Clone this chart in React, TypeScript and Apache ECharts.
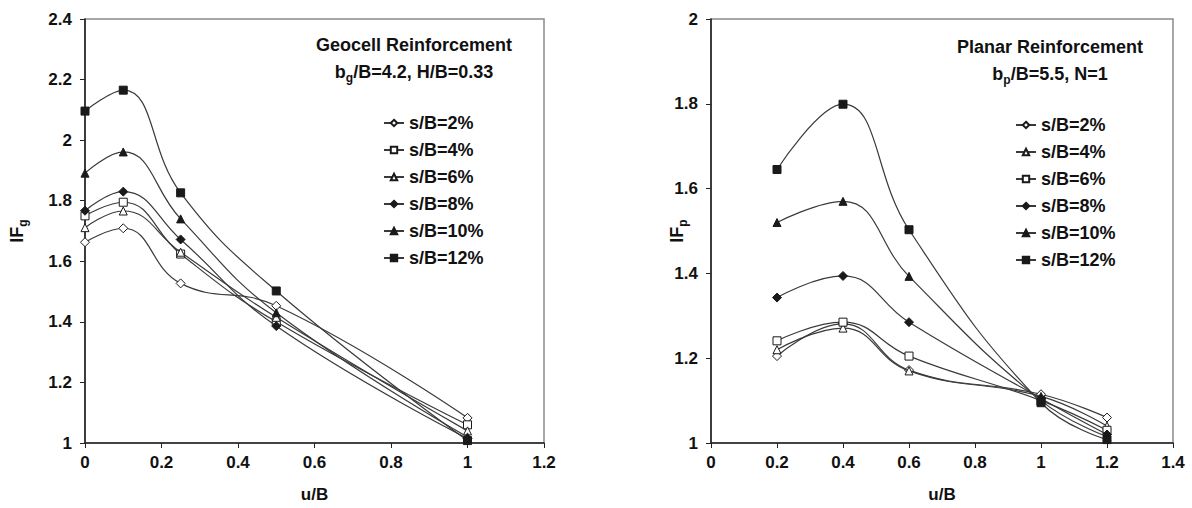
import React, { useEffect, useRef } from "react";
import * as echarts from "echarts";

const seriesNames = ["s/B=2%", "s/B=4%", "s/B=6%", "s/B=8%", "s/B=10%", "s/B=12%"];

// Geocell reinforcement (left)
const geoX = [0, 0.1, 0.25, 0.5, 1];
const geo2 = [1.663, 1.709, 1.527, 1.453, 1.083];
const geo4 = [1.75, 1.795, 1.624, 1.4, 1.06];
const geo6 = [1.711, 1.766, 1.63, 1.415, 1.04];
const geo8 = [1.767, 1.83, 1.672, 1.386, 1.015];
const geo10 = [1.891, 1.961, 1.74, 1.43, 1.02];
const geo12 = [2.096, 2.165, 1.826, 1.502, 1.008];

// Planar reinforcement (right)
const plaX = [0.2, 0.4, 0.6, 1, 1.2];
const pla2 = [1.205, 1.281, 1.172, 1.115, 1.06];
const pla4 = [1.22, 1.271, 1.17, 1.11, 1.04];
const pla6 = [1.241, 1.285, 1.205, 1.1, 1.03];
const pla8 = [1.343, 1.394, 1.285, 1.105, 1.02];
const pla10 = [1.52, 1.57, 1.393, 1.1, 1.015];
const pla12 = [1.645, 1.799, 1.503, 1.095, 1.008];

const FONT = "'Liberation Sans', Arial, sans-serif";
const LINE = "#3a3a3a";

type Mark = { symbol: string; filled: boolean; size: number };
const geoMarks: Mark[] = [
  { symbol: "diamond", filled: false, size: 9 },
  { symbol: "rect", filled: false, size: 8 },
  { symbol: "triangle", filled: false, size: 8 },
  { symbol: "diamond", filled: true, size: 9 },
  { symbol: "triangle", filled: true, size: 8 },
  { symbol: "rect", filled: true, size: 8 },
];
const plaMarks: Mark[] = [
  { symbol: "diamond", filled: false, size: 9 },
  { symbol: "triangle", filled: false, size: 8 },
  { symbol: "rect", filled: false, size: 8 },
  { symbol: "diamond", filled: true, size: 9 },
  { symbol: "triangle", filled: true, size: 8 },
  { symbol: "rect", filled: true, size: 8 },
];

function buildSeries(xs: number[], ys: number[][], marks: Mark[]) {
  return ys.map((vals, i) => ({
    type: "line",
    name: seriesNames[i],
    data: xs.map((x, j) => [x, vals[j]]),
    smooth: 0.45,
    symbol: marks[i].symbol,
    symbolSize: marks[i].size,
    showAllSymbol: true,
    lineStyle: { color: LINE, width: 1.2 },
    itemStyle: {
      color: marks[i].filled ? "#1a1a1a" : "#ffffff",
      borderColor: "#1a1a1a",
      borderWidth: 1,
    },
    z: 2 + i,
  }));
}

const fmt = (v: number) => String(parseFloat(v.toFixed(1)));

function makeOption(cfg: {
  gridLeft: number;
  gridTop: number;
  gridWidth: number;
  gridHeight: number;
  xMax: number;
  yMax: number;
  sub: string;
  nameGap: number;
  title1: string;
  title2: string;
  titleX: number;
  titleY: number;
  legendLeft: number;
  legendTop: number;
  series: any[];
}) {
  const labelStyle = { fontFamily: FONT, fontWeight: "bold", fontSize: 17, color: "#111" };
  return {
    animation: false,
    backgroundColor: "#ffffff",
    grid: {
      left: cfg.gridLeft,
      top: cfg.gridTop,
      width: cfg.gridWidth,
      height: cfg.gridHeight,
      show: true,
      borderColor: "#8a8a8a",
      borderWidth: 1.5,
      backgroundColor: "transparent",
    },
    xAxis: {
      type: "value",
      min: 0,
      max: cfg.xMax,
      interval: 0.2,
      name: "u/B",
      nameLocation: "middle",
      nameGap: 43,
      nameMoveOverlap: false,
      nameTextStyle: { fontFamily: FONT, fontWeight: "bold", fontSize: 17, color: "#111" },
      axisLine: { show: true, lineStyle: { color: "#222", width: 1.6 } },
      axisTick: { show: true, inside: false, length: 5, lineStyle: { color: "#222" } },
      axisLabel: { ...labelStyle, margin: 11, formatter: fmt },
      splitLine: { show: false },
    },
    yAxis: {
      type: "value",
      min: 1,
      max: cfg.yMax,
      interval: 0.2,
      name: "{a|IF}{b|" + cfg.sub + "}",
      nameLocation: "middle",
      nameGap: cfg.nameGap,
      nameMoveOverlap: false,
      nameTextStyle: {
        rich: {
          a: { fontFamily: FONT, fontWeight: "bold", fontSize: 18, color: "#111", lineHeight: 24 },
          b: { fontFamily: FONT, fontWeight: "bold", fontSize: 12, color: "#111", lineHeight: 11, verticalAlign: "bottom" },
        },
      },
      axisLine: { show: true, lineStyle: { color: "#222", width: 1.6 } },
      axisTick: { show: true, inside: false, length: 5, lineStyle: { color: "#222" } },
      axisLabel: { ...labelStyle, margin: 13, formatter: fmt },
      splitLine: { show: false },
    },
    legend: {
      orient: "vertical",
      left: cfg.legendLeft,
      top: cfg.legendTop,
      itemWidth: 20,
      itemHeight: 8,
      itemGap: 9,
      selectedMode: false,
      data: seriesNames,
      textStyle: { fontFamily: FONT, fontWeight: "bold", fontSize: 18, color: "#111", lineHeight: 18, padding: [0, 0, 0, 0] },
    },
    graphic: [
      {
        type: "text",
        x: cfg.titleX,
        y: cfg.titleY,
        style: {
          text: cfg.title1,
          textAlign: "center",
          textVerticalAlign: "middle",
          fontFamily: FONT,
          fontWeight: "bold",
          fontSize: 18,
          fill: "#111",
        },
      },
      {
        type: "text",
        x: cfg.titleX,
        y: cfg.titleY + 27,
        style: {
          text: cfg.title2,
          textAlign: "center",
          textVerticalAlign: "middle",
          rich: {
            m: { fontFamily: FONT, fontWeight: "bold", fontSize: 18, fill: "#111", lineHeight: 24 },
            s: { fontFamily: FONT, fontWeight: "bold", fontSize: 12, fill: "#111", lineHeight: 12, verticalAlign: "bottom" },
          },
        },
      },
    ],
    series: cfg.series,
  };
}

export default function App() {
  const leftRef = useRef<HTMLDivElement>(null);
  const rightRef = useRef<HTMLDivElement>(null);

  useEffect(() => {
    const c1 = echarts.init(leftRef.current!, undefined, { renderer: "svg" });
    const c2 = echarts.init(rightRef.current!, undefined, { renderer: "svg" });
    c1.setOption(
      makeOption({
        gridLeft: 82,
        gridTop: 19,
        gridWidth: 462,
        gridHeight: 424,
        xMax: 1.2,
        yMax: 2.4,
        sub: "g",
        nameGap: 56,
        title1: "Geocell Reinforcement",
        title2: "{m|b}{s|g}{m|/B=4.2, H/B=0.33}",
        titleX: 414,
        titleY: 45,
        legendLeft: 378,
        legendTop: 109,
        series: buildSeries(geoX, [geo2, geo4, geo6, geo8, geo10, geo12], geoMarks),
      }) as any
    );
    c2.setOption(
      makeOption({
        gridLeft: 115,
        gridTop: 19,
        gridWidth: 462,
        gridHeight: 431,
        xMax: 1.4,
        yMax: 2,
        sub: "p",
        nameGap: 22,
        title1: "Planar Reinforcement",
        title2: "{m|b}{s|p}{m|/B=5.5, N=1}",
        titleX: 454,
        titleY: 47,
        legendLeft: 414,
        legendTop: 111,
        series: buildSeries(plaX, [pla2, pla4, pla6, pla8, pla10, pla12], plaMarks),
      }) as any
    );
    return () => {
      c1.dispose();
      c2.dispose();
    };
  }, []);

  return (
    <div style={{ position: "absolute", left: 0, top: 0, width: 1192, height: 508, background: "#fff" }}>
      <div ref={leftRef} style={{ position: "absolute", left: 0, top: 0, width: 596, height: 508 }} />
      <div ref={rightRef} style={{ position: "absolute", left: 596, top: 0, width: 596, height: 508 }} />
    </div>
  );
}
